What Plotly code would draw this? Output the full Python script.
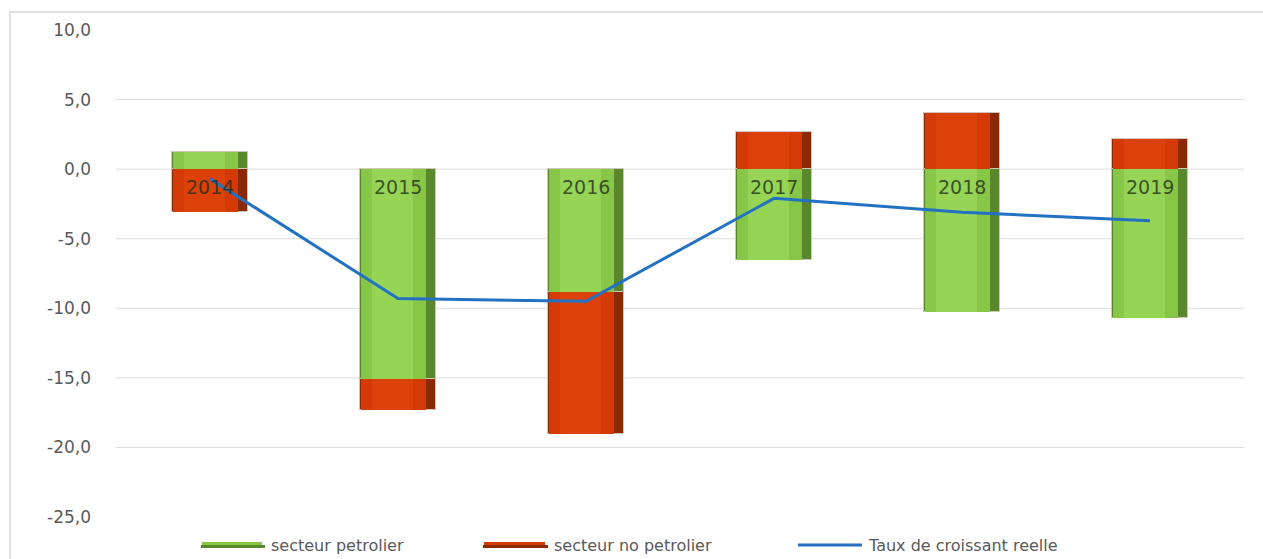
import plotly.graph_objects as go

# Growth contributions by year (percentage points)
years = ["2014", "2015", "2016", "2017", "2018", "2019"]
secteur_petrolier = [1.2, -15.1, -8.8, -6.5, -10.3, -10.7]
secteur_no_petrolier = [-3.1, -2.2, -10.2, 2.7, 4.0, 2.2]
taux_croissance = [-0.7, -9.3, -9.5, -2.1, -3.1, -3.7]

series_names = ["secteur petrolier", "secteur no petrolier", "Taux de croissant reelle"]
y_ticks = [10, 5, 0, -5, -10, -15, -20, -25]
y_tick_text = [f"{v:.1f}".replace(".", ",") for v in y_ticks]
grid_values = [5, 0, -5, -10, -15, -20]

W, H = 1263, 559
M_L, M_R, M_T, M_B = 116, 19, 30, 42
PLOT_W = W - M_L - M_R
PLOT_H = H - M_T - M_B


def px_x(px):
    return (px - M_L) / PLOT_W


def px_y(py):
    return (H - M_B - py) / PLOT_H


GREEN_DARK, GREEN_MID, GREEN_LIGHT = "#5a872c", "#88c648", "#95d455"
RED_DARK, RED_MID, RED_LIGHT = "#8a2904", "#d33a06", "#dd410a"
BLUE = "#2371c2"

fig = go.Figure()

# outer (shaded edge) bars
fig.add_trace(go.Bar(x=years, y=secteur_petrolier, name=series_names[0],
                     marker=dict(color=GREEN_DARK, line=dict(color="#cfc6bd", width=1)),
                     width=0.405, showlegend=False, hoverinfo="skip"))
fig.add_trace(go.Bar(x=years, y=secteur_no_petrolier, name=series_names[1],
                     marker=dict(color=RED_DARK, line=dict(color="#cfc6bd", width=1)),
                     width=0.405, showlegend=False, hoverinfo="skip"))

# main face of the bars, on an overlaid category axis
fig.add_trace(go.Bar(x=years, y=secteur_petrolier, name=series_names[0],
                     marker=dict(color=GREEN_MID, line=dict(width=0)),
                     width=0.345, offset=-0.197, xaxis="x2", showlegend=False,
                     hoverinfo="skip"))
fig.add_trace(go.Bar(x=years, y=secteur_no_petrolier, name=series_names[1],
                     marker=dict(color=RED_MID, line=dict(width=0)),
                     width=0.345, offset=-0.197, xaxis="x2", showlegend=False,
                     hoverinfo="skip"))

# highlight strip in the middle of each bar
fig.add_trace(go.Bar(x=years, y=secteur_petrolier, name=series_names[0],
                     marker=dict(color=GREEN_LIGHT, line=dict(width=0)),
                     width=0.22, offset=-0.14, xaxis="x3", showlegend=False))
fig.add_trace(go.Bar(x=years, y=secteur_no_petrolier, name=series_names[1],
                     marker=dict(color=RED_LIGHT, line=dict(width=0)),
                     width=0.22, offset=-0.14, xaxis="x3", showlegend=False))

# real growth rate line
fig.add_trace(go.Scatter(x=years, y=taux_croissance, name=series_names[2],
                         mode="lines", line=dict(color=BLUE, width=3),
                         xaxis="x3", showlegend=False))

shapes = []
# horizontal gridlines
for g in grid_values:
    shapes.append(dict(type="line", xref="paper", yref="y", x0=0, x1=1, y0=g, y1=g,
                       line=dict(color="#dcdcdc", width=1), layer="below"))
# chart frame
shapes.append(dict(type="rect", xref="paper", yref="paper",
                   x0=px_x(10), x1=px_x(W + 5), y0=px_y(H + 5), y1=px_y(12),
                   line=dict(color="#d6d6d6", width=1.5), layer="below"))

annotations = []
# category labels sitting just under the zero line
for i, yr in enumerate(years):
    annotations.append(dict(x=i, y=0, xref="x", yref="y", text=yr, showarrow=False,
                            yanchor="middle", yshift=-18,
                            font=dict(family="DejaVu Sans", size=19,
                                      color="rgba(35,45,25,0.8)")))

# legend
legend_items = [
    (series_names[0], GREEN_MID, GREEN_DARK, 201, 265, 7),
    (series_names[1], RED_MID, RED_DARK, 483, 548, 7),
    (series_names[2], BLUE, BLUE, 798, 862, 3),
]
LEG_Y = 545
for name, c_top, c_bot, x0, x1, th in legend_items:
    if th > 3:
        shapes.append(dict(type="rect", xref="paper", yref="paper",
                           x0=px_x(x0), x1=px_x(x1), y0=px_y(LEG_Y + 3), y1=px_y(LEG_Y),
                           fillcolor=c_bot, line=dict(width=0)))
        shapes.append(dict(type="rect", xref="paper", yref="paper",
                           x0=px_x(x0 + 1), x1=px_x(x1 - 3), y0=px_y(LEG_Y), y1=px_y(LEG_Y - 3),
                           fillcolor=c_top, line=dict(width=0)))
    else:
        shapes.append(dict(type="line", xref="paper", yref="paper",
                           x0=px_x(x0), x1=px_x(x1), y0=px_y(LEG_Y), y1=px_y(LEG_Y),
                           line=dict(color=c_top, width=th)))
    annotations.append(dict(x=px_x(x1 + 4), y=px_y(LEG_Y), xref="paper", yref="paper",
                            text=name, showarrow=False, xanchor="left", yanchor="middle",
                            font=dict(family="DejaVu Sans", size=16, color="#595959")))

hidden_cat = dict(type="category", overlaying="x", matches="x", showticklabels=False,
                  showgrid=False, zeroline=False, showline=False, ticks="")

fig.update_layout(
    width=W, height=H,
    margin=dict(l=M_L, r=M_R, t=M_T, b=M_B),
    paper_bgcolor="white", plot_bgcolor="white",
    barmode="relative", bargap=0,
    showlegend=False,
    xaxis=dict(type="category", showticklabels=False, showgrid=False, zeroline=False,
               showline=False, ticks="", range=[-0.5, 5.5]),
    xaxis2=hidden_cat,
    xaxis3=hidden_cat,
    yaxis=dict(range=[-25, 10], tickvals=y_ticks, ticktext=y_tick_text, showgrid=False,
               zeroline=False, showline=False, ticks="", ticklabelstandoff=24,
               tickfont=dict(family="DejaVu Sans", size=17, color="#595959")),
    shapes=shapes,
    annotations=annotations,
)

fig.write_html("out.html")
